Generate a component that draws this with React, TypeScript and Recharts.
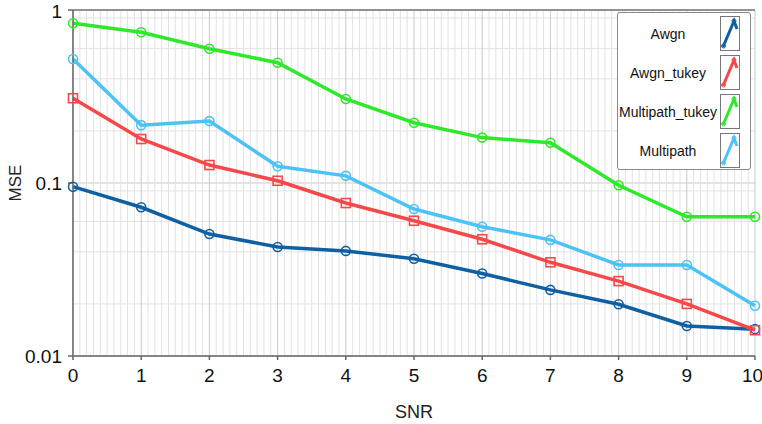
import {
  LineChart,
  Line,
  XAxis,
  YAxis,
  CartesianGrid,
  ReferenceLine,
} from "recharts";

const snr = [0, 1, 2, 3, 4, 5, 6, 7, 8, 9, 10];
const awgn = [0.0952, 0.0724, 0.0507, 0.0427, 0.0405, 0.0365, 0.03, 0.0241, 0.0199, 0.0149, 0.0143];
const awgnTukey = [0.309, 0.1796, 0.127, 0.103, 0.0766, 0.0605, 0.0473, 0.0348, 0.0271, 0.02, 0.0141];
const multipathTukey = [0.838, 0.743, 0.597, 0.496, 0.306, 0.223, 0.183, 0.171, 0.097, 0.0638, 0.0638];
const multipath = [0.521, 0.216, 0.228, 0.125, 0.11, 0.0707, 0.0559, 0.0469, 0.0336, 0.0336, 0.0195];
const yTicks = [0.01, 0.1, 1];

const data = snr.map((x, i) => ({
  snr: x,
  awgn: awgn[i],
  awgnTukey: awgnTukey[i],
  multipathTukey: multipathTukey[i],
  multipath: multipath[i],
}));

const series = [
  { key: "awgn", name: "Awgn", color: "#0f5fa3", square: false },
  { key: "awgnTukey", name: "Awgn_tukey", color: "#f5484b", square: true },
  { key: "multipathTukey", name: "Multipath_tukey", color: "#2fe82a", square: false },
  { key: "multipath", name: "Multipath", color: "#4cc2f5", square: false },
];

// grid lines: tenths on x, 2..9 per decade on y
const minorX = Array.from({ length: 101 }, (_, i) => i / 10).filter((v) => !Number.isInteger(v));
const minorY = [0.01, 0.1].flatMap((d) => [2, 3, 4, 5, 6, 7, 8, 9].map((m) => d * m));

const FONT = "'Liberation Sans', Arial, Helvetica, sans-serif";

function CircleDot(props: any) {
  const { cx, cy, stroke } = props;
  if (cx == null || cy == null) return null;
  return <circle cx={cx} cy={cy} r={4.5} fill="none" stroke={stroke} strokeWidth={1.6} />;
}

function SquareDot(props: any) {
  const { cx, cy, stroke } = props;
  if (cx == null || cy == null) return null;
  return <rect x={cx - 4.5} y={cy - 4.5} width={9} height={9} fill="none" stroke={stroke} strokeWidth={1.6} />;
}

function LegendBox() {
  return (
    <div
      style={{
        position: "absolute",
        left: 617,
        top: 12,
        width: 134,
        height: 158,
        background: "#fff",
        border: "1px solid #8a8a8a",
        borderRadius: 3,
        fontFamily: FONT,
        fontSize: 14,
        color: "#111",
        boxSizing: "border-box",
        paddingTop: 1,
      }}
    >
      {series.map((s) => (
        <div key={s.key} style={{ display: "flex", alignItems: "center", height: 39 }}>
          <div style={{ flex: 1, textAlign: "center", whiteSpace: "nowrap", marginLeft: -2 }}>{s.name}</div>
          <svg width={20} height={35} style={{ marginRight: 10, display: "block" }}>
            <rect x={0.5} y={0.5} width={19} height={34} fill="#fff" stroke="#777" />
            <polyline points="3,31 14,5 17,13" fill="none" stroke={s.color} strokeWidth={3} />
            <circle cx={3.5} cy={30} r={2} fill="none" stroke={s.color} strokeWidth={1} />
            <circle cx={14} cy={5} r={2} fill="none" stroke={s.color} strokeWidth={1} />
          </svg>
        </div>
      ))}
    </div>
  );
}

export default function App() {
  return (
    <div style={{ position: "absolute", left: 0, top: 0, width: 762, height: 424, background: "#fff" }}>
      <LineChart
        width={762}
        height={424}
        data={data}
        margin={{ top: 10, right: 7, bottom: 0, left: 0 }}
      >
        <CartesianGrid stroke="#e2e2e2" strokeWidth={1} vertical={false} horizontalValues={minorY} />
        {minorX.map((v) => (
          <ReferenceLine key={v} x={v} stroke="#e2e2e2" strokeWidth={1} />
        ))}
        <CartesianGrid stroke="#c9c9c9" strokeWidth={1} verticalValues={snr} horizontalValues={yTicks} />
        <XAxis
          dataKey="snr"
          type="number"
          domain={[0, 10]}
          ticks={snr}
          height={68}
          tickSize={4}
          tickMargin={9}
          stroke="#666"
          strokeWidth={1.5}
          tick={{ fill: "#111", fontSize: 19, fontFamily: FONT }}
          label={{ value: "SNR", position: "insideBottom", offset: 6, fill: "#222", fontSize: 18, fontFamily: FONT }}
        />
        <YAxis
          scale="log"
          domain={[0.01, 1]}
          ticks={yTicks}
          allowDataOverflow
          width={73}
          tickSize={5}
          tickMargin={6}
          stroke="#666"
          strokeWidth={1.5}
          tickFormatter={(v: number) => String(v)}
          tick={{ fill: "#111", fontSize: 19, fontFamily: FONT }}
          label={{
            value: "MSE",
            angle: -90,
            position: "insideLeft",
            offset: 15,
            fill: "#222",
            fontSize: 17,
            fontFamily: FONT,
            style: { textAnchor: "middle" },
          }}
        />
        <ReferenceLine y={1} stroke="#777" strokeWidth={1.5} />
        {series.map((s) => (
          <Line
            key={s.key}
            type="linear"
            dataKey={s.key}
            name={s.name}
            stroke={s.color}
            strokeWidth={3.5}
            dot={s.square ? <SquareDot /> : <CircleDot />}
            activeDot={false}
            isAnimationActive={false}
          />
        ))}
      </LineChart>
      <LegendBox />
    </div>
  );
}
